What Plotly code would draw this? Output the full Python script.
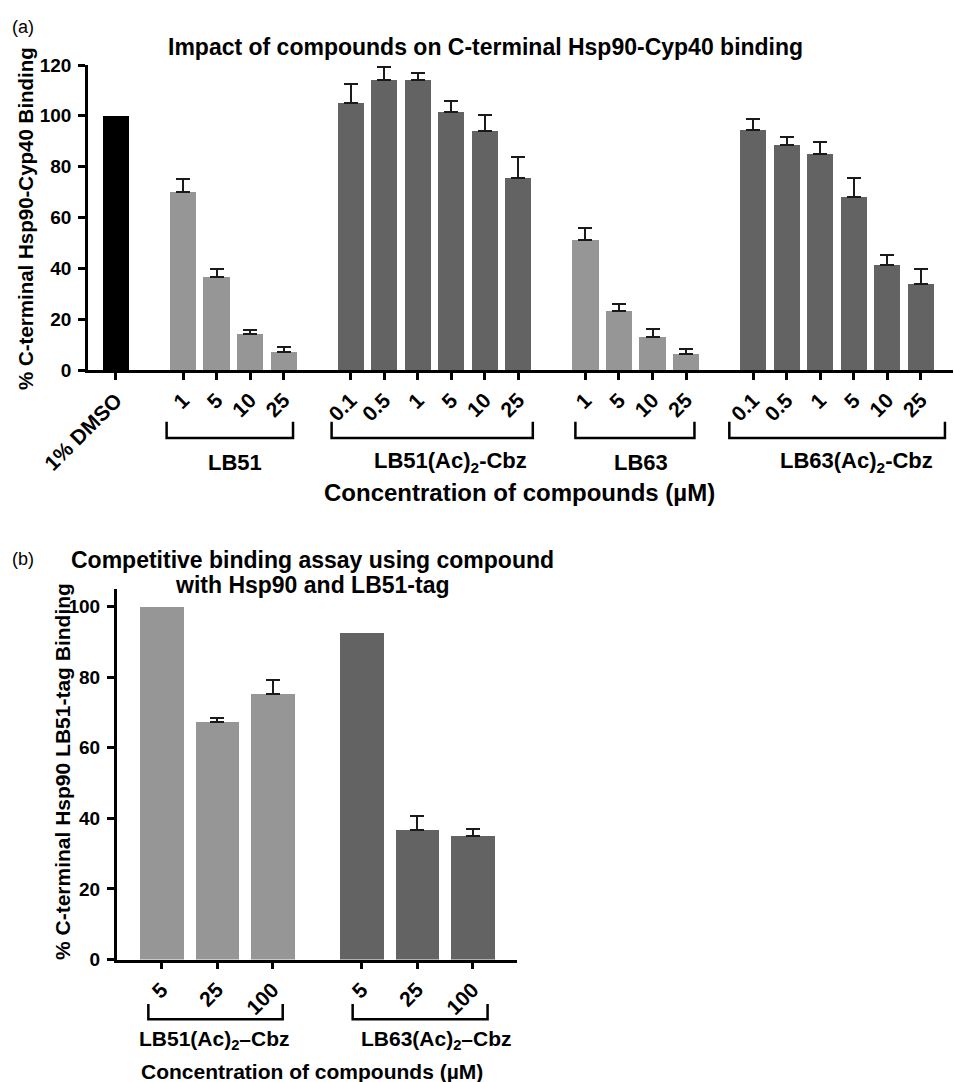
import plotly.graph_objects as go

W, H = 954, 1082

# ---------------- Data: panel (a) ----------------
a_control_label = "1% DMSO"
a_control_value = 100
a_groups = ["LB51", "LB51(Ac)<sub>2</sub>-Cbz", "LB63", "LB63(Ac)<sub>2</sub>-Cbz"]
a_conc = [
    ["1", "5", "10", "25"],
    ["0.1", "0.5", "1", "5", "10", "25"],
    ["1", "5", "10", "25"],
    ["0.1", "0.5", "1", "5", "10", "25"],
]
a_values = [
    [70.0, 36.5, 14.0, 7.1],
    [105.0, 114.0, 114.0, 101.6, 94.1, 75.4],
    [51.1, 23.3, 13.1, 6.4],
    [94.4, 88.4, 84.8, 68.2, 41.3, 33.8],
]
a_errors = [
    [5.1, 3.2, 1.7, 2.0],
    [7.5, 5.2, 2.7, 4.1, 6.3, 8.6],
    [4.6, 2.5, 2.9, 1.7],
    [4.2, 3.3, 4.9, 7.5, 4.1, 6.1],
]

# ---------------- Data: panel (b) ----------------
b_groups = ["LB51(Ac)<sub>2</sub>\u2013Cbz", "LB63(Ac)<sub>2</sub>\u2013Cbz"]
b_conc = [["5", "25", "100"], ["5", "25", "100"]]
b_values = [[100.0, 67.2, 75.2], [92.4, 36.7, 35.0]]
b_errors = [[0.0, 1.3, 3.9], [0.0, 4.0, 2.1]]

# ---------------- Styles ----------------
BLACK = "#000000"
LIGHT = "#969696"
DARK = "#636363"
group_colors_a = [LIGHT, DARK, LIGHT, DARK]
group_colors_b = [LIGHT, DARK]
FONT = "Liberation Sans, Arial, Helvetica, sans-serif"
BAR_W = 0.78


def px(x):
    return x / W


def py(y):
    return 1 - y / H


fig = go.Figure()

# ---------------- Panel (a) bars ----------------
a_tickvals, a_ticktext = [0], [a_control_label]
fig.add_trace(go.Bar(x=[0], y=[a_control_value], width=BAR_W, marker=dict(color=BLACK, line=dict(width=0)),
                     xaxis="x", yaxis="y", showlegend=False))
pos = 0
for g, (concs, vals, errs) in enumerate(zip(a_conc, a_values, a_errors)):
    pos += 1  # empty slot between groups
    xs = []
    for c in concs:
        pos += 1
        xs.append(pos)
        a_tickvals.append(pos)
        a_ticktext.append(c)
    fig.add_trace(go.Bar(
        x=xs, y=vals, width=BAR_W,
        marker=dict(color=group_colors_a[g], line=dict(width=0)),
        error_y=dict(type="data", array=errs, arrayminus=[0] * len(errs), symmetric=False,
                     color="#1a1a1a", thickness=2, width=7),
        xaxis="x", yaxis="y", showlegend=False))

# ---------------- Panel (b) bars ----------------
b_tickvals, b_ticktext = [], []
pos = -1
for g, (concs, vals, errs) in enumerate(zip(b_conc, b_values, b_errors)):
    if g > 0:
        pos += 0.6  # extra gap between groups
    for c, v, e in zip(concs, vals, errs):
        pos += 1
        b_tickvals.append(pos)
        b_ticktext.append(c)
        tr = dict(x=[pos], y=[v], width=BAR_W,
                  marker=dict(color=group_colors_b[g], line=dict(width=0)),
                  xaxis="x2", yaxis="y2", showlegend=False)
        if e > 0:
            tr["error_y"] = dict(type="data", array=[e], arrayminus=[0], symmetric=False,
                                 color="#1a1a1a", thickness=2, width=7)
        fig.add_trace(go.Bar(**tr))

axis_common = dict(showline=True, linecolor="black", linewidth=2.5, ticks="outside",
                   ticklen=7, tickwidth=2.5, tickcolor="black", showgrid=False, zeroline=False,
                   automargin=False)
ytick_font = dict(family=FONT, size=19, color="black", weight="bold")
xtick_font = dict(family=FONT, size=21, color="black", weight="bold")

fig.update_layout(
    template="none",
    width=W, height=H, margin=dict(l=0, r=0, t=0, b=0, autoexpand=False),
    paper_bgcolor="white", plot_bgcolor="white", barmode="overlay", bargap=0,
    font=dict(family=FONT, color="black"),
    xaxis=dict(**axis_common, tickfont=xtick_font,
               domain=[px(88), px(953)], range=[-0.834, 24.96], anchor="y",
               tickmode="array", tickvals=a_tickvals, ticktext=a_ticktext, tickangle=-45),
    yaxis=dict(**axis_common, tickfont=ytick_font, domain=[py(370), py(65)], range=[0, 120], anchor="x",
               tickmode="array", tickvals=[0, 20, 40, 60, 80, 100, 120], ticklabelstandoff=3),
    xaxis2=dict(**axis_common, tickfont=xtick_font,
                domain=[px(116.7), px(517)], range=[-0.81, 6.40], anchor="y2",
                tickmode="array", tickvals=b_tickvals, ticktext=b_ticktext, tickangle=-45),
    yaxis2=dict(**axis_common, tickfont=ytick_font, domain=[py(959.5), py(589)], range=[0, 105], anchor="x2",
                tickmode="array", tickvals=[0, 20, 40, 60, 80, 100], ticklabelstandoff=3),
)

# ---------------- Brackets ----------------
a_brackets = [(1.51, 5.28), (6.43, 12.43), (13.7, 17.25), (18.29, 24.72)]
for x0, x1 in a_brackets:
    fig.add_shape(type="path", xref="x", yref="paper",
                  path=f"M {x0},{py(421.7)} L {x0},{py(438)} L {x1},{py(438)} L {x1},{py(421.7)}",
                  line=dict(color="black", width=2.5))
b_brackets = [(-0.24, 2.18), (3.44, 5.87)]
for x0, x1 in b_brackets:
    fig.add_shape(type="path", xref="x2", yref="paper",
                  path=f"M {x0},{py(1004)} L {x0},{py(1019.3)} L {x1},{py(1019.3)} L {x1},{py(1004)}",
                  line=dict(color="black", width=2.5))

# ---------------- Text ----------------
def ann(text, x, y, size, bold=True, angle=0, xref="paper", xanchor="center"):
    fig.add_annotation(text=text, x=x, y=py(y), xref=xref, yref="paper", showarrow=False,
                       xanchor=xanchor, yanchor="middle", textangle=angle,
                       font=dict(family=FONT, size=size, color="black",
                                 weight="bold" if bold else "normal"))

# Panel (a)
ann("(a)", px(23), 27, 18, bold=False)
ann("Impact of compounds on C-terminal Hsp90-Cyp40 binding", px(485), 47, 23)
ann("% C-terminal Hsp90-Cyp40 Binding", px(25), 219, 20.5, angle=-90)
a_label_x = [3.55, 9.97, 15.66, 22.07]
for name, lx in zip(a_groups, a_label_x):
    ann(name, lx, 462, 22, xref="x")
ann("Concentration of compounds (\u00b5M)", px(519), 492, 24)

# Panel (b)
ann("(b)", px(23), 559, 18, bold=False)
ann("Competitive binding assay using compound", px(312), 560, 23)
ann("with Hsp90 and LB51-tag", px(312), 585, 23)
ann("% C-terminal Hsp90 LB51-tag Binding", px(62), 772, 21, angle=-90)
b_label_x = [0.96, 4.95]
for name, lx in zip(b_groups, b_label_x):
    ann(name, lx, 1040, 21, xref="x2")
ann("Concentration of compounds (\u00b5M)", px(312), 1071, 21)

fig.write_html("out.html", config={"displayModeBar": False},
               post_script="document.body.style.margin='0';document.body.style.padding='0';")
